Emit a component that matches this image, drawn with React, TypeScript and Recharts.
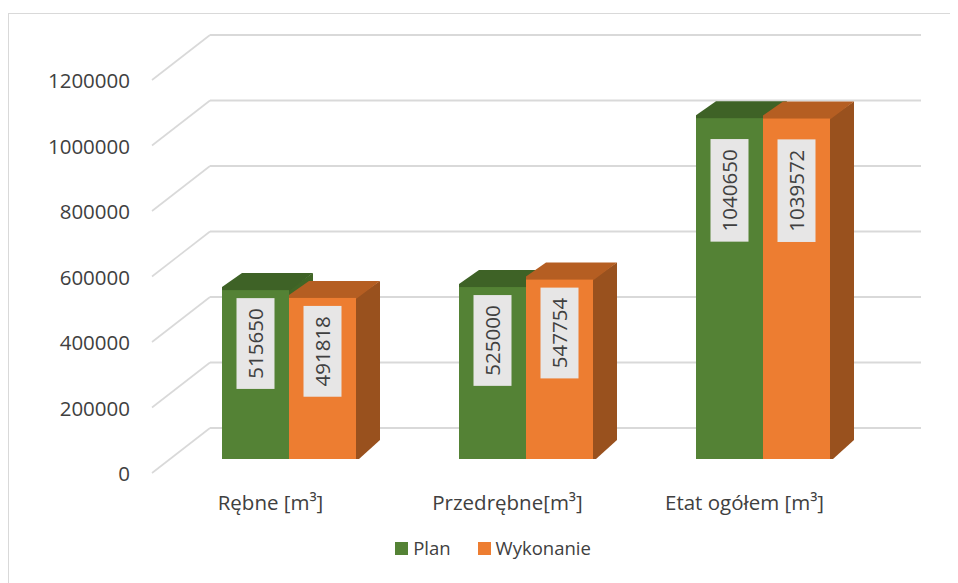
import React from 'react';
import { BarChart, Bar, XAxis, YAxis, CartesianGrid, Legend, LabelList } from 'recharts';

const categories = ['Rębne [m³]', 'Przedrębne[m³]', 'Etat ogółem [m³]'];
const planValues = [515650, 525000, 1040650];
const wykonanieValues = [491818, 547754, 1039572];
const yTicks = [0, 200000, 400000, 600000, 800000, 1000000, 1200000];
const seriesNames = { plan: 'Plan', wykonanie: 'Wykonanie' };

const data = categories.map((c, i) => ({ name: c, plan: planValues[i], wykonanie: wykonanieValues[i] }));

const W = 950;
const H = 575;
const MARGIN = { top: 58, right: 77, bottom: 64, left: 62 };
const YAXIS_W = 100;
const PLOT_LEFT = MARGIN.left + YAXIS_W;
const PLOT_BOTTOM = H - MARGIN.bottom - 60;

// 3D geometry
const DX = 24;
const DY = 17;
const BACK_DX = 40;
const BACK_DY = 31;
const FRONT_DX = -18;
const FRONT_DY = 14;

const FONT = '"Open Sans", "DejaVu Sans", sans-serif';
const TEXT = '#404040';
const GRID = '#d9d9d9';

const palettes = {
  plan: { front: '#548235', top: '#3e6226', side: '#416626' },
  wykonanie: { front: '#ed7d31', top: '#b55e22', side: '#99511e' },
};

function Bar3D(props: any) {
  const { x, y, width, height, dataKey } = props;
  if (height == null || width == null) return null;
  const p = palettes[dataKey as keyof typeof palettes];
  const base = y + height;
  const r = x + width;
  const side = `${r - 1},${y} ${r + DX},${y - DY} ${r + DX},${base - DY - 2} ${r + 3},${base} ${r - 1},${base}`;
  const top = `${x},${y + 1} ${x},${y - 3} ${x + DX - 4},${y - DY} ${r + DX},${y - DY} ${r},${y + 1}`;
  return (
    <g>
      <polygon points={side} fill={p.side} />
      <polygon points={top} fill={p.top} />
      <rect x={x} y={y} width={width} height={height} fill={p.front} />
    </g>
  );
}

function ValueLabel(props: any) {
  const { x, y, width, height, value } = props;
  const s = String(value);
  const boxH = s.length * 11.8 + 20;
  const boxW = 38;
  const off = 8 + Math.max(0, height - 180) * 0.08;
  const cx = x + width / 2;
  const top = y + off;
  const cy = top + boxH / 2;
  return (
    <g>
      <rect x={cx - boxW / 2} y={top} width={boxW} height={boxH} fill="#e7e6e6" />
      <text
        x={cx}
        y={cy}
        transform={`rotate(-90 ${cx} ${cy})`}
        textAnchor="middle"
        dominantBaseline="central"
        fontSize={20.5}
        fontFamily={FONT}
        fill={TEXT}
      >
        {s}
      </text>
    </g>
  );
}

function YTick(props: any) {
  const { y, payload } = props;
  return (
    <text
      x={PLOT_LEFT + FRONT_DX - 22}
      y={y + FRONT_DY}
      textAnchor="end"
      dominantBaseline="central"
      fontSize={20.5}
      fontFamily={FONT}
      fill={TEXT}
    >
      {payload.value}
    </text>
  );
}

function XTick(props: any) {
  const { x, payload } = props;
  return (
    <text
      x={x + FRONT_DX}
      y={PLOT_BOTTOM + 43}
      textAnchor="middle"
      dominantBaseline="central"
      fontSize={20.5}
      fontFamily={FONT}
      fill={TEXT}
    >
      {payload.value}
    </text>
  );
}

function GridLine(props: any) {
  const { x1, x2, y1, key } = props;
  return (
    <g key={key}>
      <line x1={x1 + FRONT_DX} y1={y1 + FRONT_DY} x2={x1 + BACK_DX} y2={y1 - BACK_DY} stroke={GRID} strokeWidth={1.6} />
      <line x1={x1 + BACK_DX} y1={y1 - BACK_DY} x2={x2 + BACK_DX} y2={y1 - BACK_DY} stroke={GRID} strokeWidth={2} />
    </g>
  );
}

function LegendContent(props: any) {
  const payload = props.payload || [];
  return (
    <div style={{ display: 'flex', justifyContent: 'center', alignItems: 'center', fontFamily: FONT, fontSize: 18.5, color: TEXT }}>
      {payload.map((item: any, i: number) => (
        <div key={i} style={{ display: 'flex', alignItems: 'center', marginLeft: i === 0 ? 0 : 27 }}>
          <div style={{ width: 13, height: 13, background: palettes[item.dataKey as keyof typeof palettes].front, marginRight: 5 }} />
          <span style={{ lineHeight: '24px' }}>{item.value}</span>
        </div>
      ))}
    </div>
  );
}

export default function App() {
  return (
    <div style={{ position: 'relative', width: W, height: H, overflow: 'hidden', background: '#fff' }}>
      <div style={{ position: 'absolute', left: 0, top: 5, width: 1200, height: 1000, border: '1px solid #d9d9d9', boxSizing: 'border-box' }} />
      <div style={{ position: 'absolute', left: 0, top: 0 }}>
        <BarChart width={W} height={H} data={data} margin={MARGIN} barGap={0} barSize={67} style={{ fontFamily: FONT }}>
          <CartesianGrid vertical={false} horizontal={(p: any) => <GridLine {...p} />} />
          <YAxis
            width={YAXIS_W}
            domain={[0, 1200000]}
            ticks={yTicks}
            axisLine={false}
            tickLine={false}
            tick={<YTick />}
            interval={0}
          />
          <XAxis dataKey="name" height={60} axisLine={false} tickLine={false} tick={<XTick />} interval={0} />
          <Bar dataKey="plan" name={seriesNames.plan} fill={palettes.plan.front} isAnimationActive={false} shape={(p: any) => <Bar3D {...p} />}>
            <LabelList dataKey="plan" content={<ValueLabel />} />
          </Bar>
          <Bar dataKey="wykonanie" name={seriesNames.wykonanie} fill={palettes.wykonanie.front} isAnimationActive={false} shape={(p: any) => <Bar3D {...p} />}>
            <LabelList dataKey="wykonanie" content={<ValueLabel />} />
          </Bar>
          <Legend
            layout="horizontal"
            verticalAlign="middle"
            align="center"
            wrapperStyle={{ top: 528, left: 10, width: W }}
            content={<LegendContent />}
          />
        </BarChart>
      </div>
    </div>
  );
}
